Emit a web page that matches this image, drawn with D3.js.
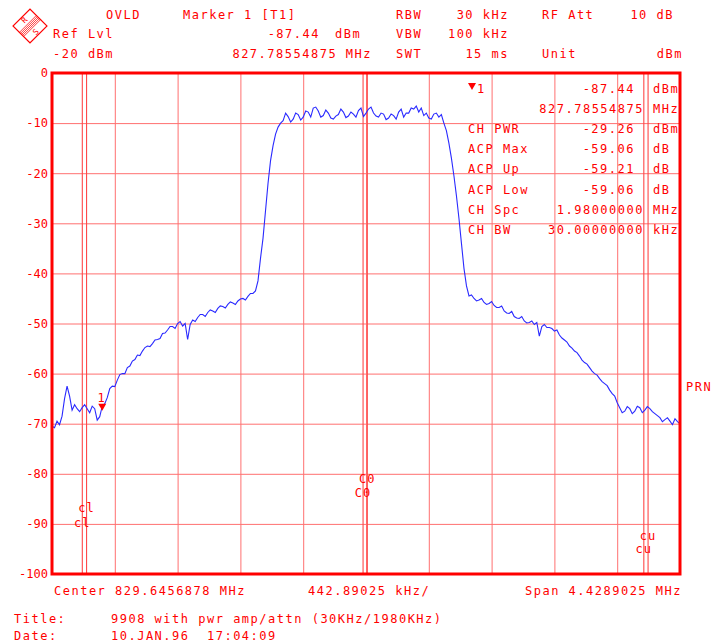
<!DOCTYPE html>
<html>
<head>
<meta charset="utf-8">
<script src="https://cdn.jsdelivr.net/npm/d3@7"></script>
<style>
  body { margin: 0; background: #fff; }
  text { font-family: "DejaVu Sans Mono", monospace; font-size: 12px; fill: #ff0000; letter-spacing: 1.5px; }
</style>
</head>
<body>
<div id="chart"></div>
<script>
// analyzer settings
const centerMHz = 829.6456878;
const spanMHz = 4.4289025;
const refLevel = -20;          // dBm at top line (display shows it as 0)
const yTicks = [0, -10, -20, -30, -40, -50, -60, -70, -80, -90, -100];

// channel power setup
const chCenterMHz = 829.64;
const chSpacing = 1.98;
const chBW = 0.03;
const channels = ["cl", "C0", "cu"];
const channelOffsets = [-1, 0, 1];

// marker 1
const markerMHz = 827.78554875;
const markerDbm = -87.44;

// trace, one level per sweep point (display dB, 0 = ref level)
const traceLevels = [
  -70.5, -70.8, -69.5, -70.2, -68.5, -65.0, -62.5, -64.5, -67.3, -66.2,
  -67.0, -67.6, -66.8, -66.2, -67.0, -67.8, -66.5, -67.0, -69.3, -68.6,
  -66.5, -66.0, -64.8, -63.0, -62.5, -62.6, -61.3, -60.2, -60.0, -60.0,
  -58.8, -58.5, -57.5, -57.2, -56.3, -56.4, -55.5, -54.8, -54.5, -54.6,
  -54.0, -53.3, -53.2, -53.0, -52.0, -51.9, -51.3, -50.6, -50.6, -51.0,
  -50.0, -49.6, -50.5, -50.0, -53.2, -50.2, -49.3, -49.6, -48.8, -48.2,
  -48.2, -48.6, -47.8, -47.3, -47.5, -47.8, -47.0, -46.5, -46.6, -46.9,
  -46.2, -45.7, -45.9, -46.2, -45.5, -45.1, -45.0, -45.3, -44.6, -44.0,
  -44.0, -43.5, -41.5, -37.0, -33.0, -27.5, -22.0, -17.5, -14.5, -12.2,
  -10.8, -10.0, -9.5, -8.0, -8.7, -9.8, -9.2, -8.0, -8.3, -9.4,
  -8.8, -7.6, -7.8, -8.8, -7.0, -6.8, -7.6, -8.8, -8.5, -7.4,
  -8.0, -9.0, -9.2, -8.6, -8.3, -7.2, -7.8, -8.9, -8.6, -7.8,
  -8.2, -8.8, -7.5, -7.0, -8.7, -8.0, -7.2, -6.8, -8.0, -8.6,
  -8.8, -8.0, -8.2, -9.3, -9.0, -8.2, -8.5, -9.2, -7.8, -7.2,
  -8.8, -8.0, -8.0, -7.0, -7.2, -6.6, -7.8, -7.0, -8.5, -8.0,
  -9.0, -9.2, -8.2, -8.0, -8.8, -8.3, -10.0, -11.5, -14.0, -17.0,
  -20.5, -24.5, -29.0, -34.0, -39.0, -42.5, -44.5, -44.3, -45.0, -45.5,
  -45.3, -45.0, -45.8, -46.2, -46.0, -45.6, -46.4, -46.8, -46.8, -46.5,
  -47.5, -47.9, -48.0, -47.6, -48.6, -48.9, -49.0, -48.6, -49.5, -49.9,
  -49.8, -49.5, -50.2, -49.8, -52.5, -50.6, -50.2, -50.8, -50.8, -51.0,
  -51.5, -51.3, -52.3, -52.9, -53.3, -53.7, -54.5, -54.9, -55.5, -55.8,
  -56.5, -57.3, -57.8, -58.1, -58.8, -59.5, -60.0, -60.3, -61.0, -61.6,
  -62.0, -62.4, -63.3, -64.0, -64.5, -65.8, -66.8, -67.8, -67.5, -66.6,
  -67.0, -68.0, -67.5, -66.5, -66.8, -67.8, -67.3, -66.6, -67.0, -67.6,
  -68.0, -68.4, -68.8, -69.6, -69.2, -68.8, -69.5, -70.2, -69.0, -69.6,
  -70.0
];

// header / panel texts
const headerRows = [
  [["OVLD", 106, "start"], ["Marker 1 [T1]", 183, "start"], ["RBW", 396, "start"], ["30 kHz", 509, "end"], ["RF Att", 542, "start"], ["10 dB", 674, "end"]],
  [["Ref Lvl", 53, "start"], ["-87.44", 320, "end"], ["dBm", 335, "start"], ["VBW", 396, "start"], ["100 kHz", 509, "end"]],
  [["-20 dBm", 53, "start"], ["827.78554875 MHz", 372, "end"], ["SWT", 396, "start"], ["15 ms", 509, "end"], ["Unit", 542, "start"], ["dBm", 683, "end"]]
];
const panelLabels = ["", "", "CH PWR", "ACP Max", "ACP Up", "ACP Low", "CH Spc", "CH BW"];
const panelValues = ["-87.44", "827.78554875", "-29.26", "-59.06", "-59.21", "-59.06", "1.98000000", "30.00000000"];
const panelUnits = ["dBm", "MHz", "dBm", "dB", "dB", "dB", "MHz", "kHz"];

const W = 712, H = 644;
const margin = {top: 73, right: 32, bottom: 70, left: 52};
const width = W - margin.left - margin.right;
const height = H - margin.top - margin.bottom;

const svg = d3.select("#chart").append("svg")
    .attr("width", W)
    .attr("height", H);

svg.append("rect").attr("width", W).attr("height", H).attr("fill", "#fff");

const g = svg.append("g")
    .attr("transform", `translate(${margin.left},${margin.top})`);

const x = d3.scaleLinear()
    .domain([centerMHz - spanMHz / 2, centerMHz + spanMHz / 2])
    .range([0, width]);

const y = d3.scaleLinear()
    .domain([-100, 0])
    .range([height, 0]);

// grid
const xDivs = d3.range(0, 11).map(i => centerMHz - spanMHz / 2 + i * spanMHz / 10);

const xAxis = d3.axisBottom(x)
    .tickValues(xDivs)
    .tickFormat("")
    .tickSize(-height);

g.append("g")
    .attr("class", "x-grid")
    .attr("transform", `translate(0,${height})`)
    .call(xAxis)
    .call(s => s.select(".domain").remove())
    .selectAll("line")
    .attr("stroke", "#ff7070");

const yAxis = d3.axisLeft(y)
    .tickValues(yTicks)
    .tickFormat(d => d)
    .tickSize(-width)
    .tickPadding(4);

g.append("g")
    .attr("class", "y-axis")
    .call(yAxis)
    .call(s => s.select(".domain").remove())
    .call(s => s.selectAll("line").attr("stroke", "#ff7070"))
    .selectAll("text")
    .attr("fill", "#ff0000")
    .style("font-size", "12px")
    .style("letter-spacing", "0px");

// channel lines
const labelY = {cl: [512, 527], C0: [483, 497], cu: [540, 553]};
channels.forEach((c, i) => {
    const fc = chCenterMHz + channelOffsets[i] * chSpacing;
    [fc - chBW / 2, fc + chBW / 2].forEach((f, j) => {
        g.append("line")
            .attr("x1", x(f)).attr("x2", x(f))
            .attr("y1", 0).attr("y2", height)
            .attr("stroke", "#ff4848")
            .attr("stroke-width", 1.1);
        svg.append("text")
            .attr("x", margin.left + x(f))
            .attr("y", labelY[c][1 - j])
            .attr("text-anchor", "middle")
            .style("letter-spacing", "1px")
            .text(c);
    });
});

// trace
const step = spanMHz / (traceLevels.length - 1);
const trace = traceLevels.map((v, i) => ({f: centerMHz - spanMHz / 2 + i * step, v: v}));

g.append("path")
    .datum(trace)
    .attr("fill", "none")
    .attr("stroke", "#2a2aff")
    .attr("stroke-width", 1.1)
    .attr("d", d3.line().x(d => x(d.f)).y(d => y(d.v)));

// marker
const mx = x(markerMHz), my = y(markerDbm - refLevel);
g.append("path")
    .attr("d", `M${mx - 4},${my - 7}L${mx + 4},${my - 7}L${mx},${my}Z`)
    .attr("fill", "#ff0000");
g.append("text")
    .attr("x", mx - 1).attr("y", my - 9)
    .attr("text-anchor", "middle")
    .style("letter-spacing", "0px")
    .text("1");

// frame
g.append("rect")
    .attr("width", width).attr("height", height)
    .attr("fill", "none")
    .attr("stroke", "#ff0000")
    .attr("stroke-width", 3);

// marker info panel
panelValues.forEach((v, i) => {
    const by = 93 + i * 20.1;
    if (panelLabels[i]) {
        svg.append("text").attr("x", 468).attr("y", by).text(panelLabels[i]);
    }
    svg.append("text")
        .attr("x", (i === 1 || i >= 6) ? 644 : 635)
        .attr("y", by)
        .attr("text-anchor", "end")
        .text(v);
    svg.append("text").attr("x", 653).attr("y", by).text(panelUnits[i]);
});
svg.append("path")
    .attr("d", "M468,83L476,83L472,90Z")
    .attr("fill", "#ff0000");
svg.append("text").attr("x", 477).attr("y", 93).text("1");

// header
headerRows.forEach((row, r) => {
    row.forEach(([t, xx, anchor]) => {
        svg.append("text")
            .attr("x", xx)
            .attr("y", [19, 38, 58][r])
            .attr("text-anchor", anchor)
            .text(t);
    });
});

// bottom texts
svg.append("text").attr("x", 54).attr("y", 595).text(`Center ${centerMHz} MHz`);
svg.append("text").attr("x", 308).attr("y", 595).text(`${(spanMHz * 100).toFixed(5)} kHz/`);
svg.append("text").attr("x", 682).attr("y", 595).attr("text-anchor", "end").text(`Span ${spanMHz} MHz`);
svg.append("text").attr("x", 14).attr("y", 623).text("Title:");
svg.append("text").attr("x", 111).attr("y", 623).text("9908 with pwr amp/attn (30KHz/1980KHz)");
svg.append("text").attr("x", 14).attr("y", 640).text("Date:");
svg.append("text").attr("x", 111).attr("y", 640).style("white-space", "pre").text("10.JAN.96  17:04:09");
svg.append("text").attr("x", 686).attr("y", 391).text("PRN");

// R&S logo
const logo = svg.append("g").attr("transform", "translate(30,26) rotate(-45)");
logo.append("rect")
    .attr("x", -12).attr("y", -12).attr("width", 24).attr("height", 24)
    .attr("fill", "none").attr("stroke", "#ff0000").attr("stroke-width", 1.2);
d3.range(-3, 3.1, 1.5).forEach(v => {
    logo.append("line")
        .attr("x1", -12).attr("x2", 12).attr("y1", v).attr("y2", v)
        .attr("stroke", "#ff0000").attr("stroke-width", 0.7);
});
logo.append("text").attr("x", 0).attr("y", -5.5).attr("text-anchor", "middle")
    .style("font-size", "8px").style("letter-spacing", "0px").text("R");
logo.append("text").attr("x", 0).attr("y", 11).attr("text-anchor", "middle")
    .style("font-size", "8px").style("letter-spacing", "0px").text("S");
</script>
</body>
</html>
